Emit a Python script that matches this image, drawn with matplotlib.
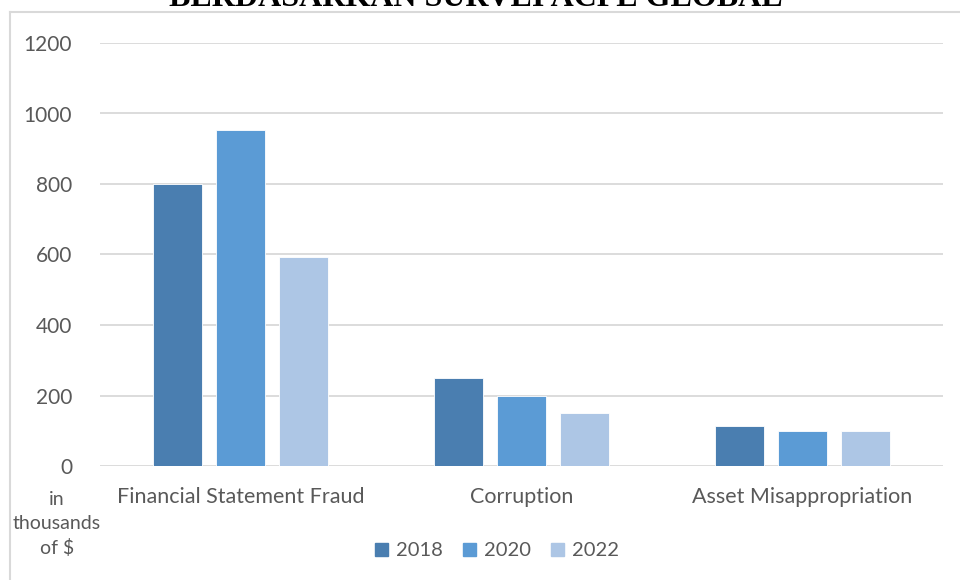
import matplotlib
matplotlib.use("Agg")
import matplotlib.pyplot as plt
import numpy as np
from matplotlib.lines import Line2D

categories = ["Financial Statement Fraud", "Corruption", "Asset Misappropriation"]
years = ["2018", "2020", "2022"]
values_2018 = [800, 250, 114]
values_2020 = [954, 200, 100]
values_2022 = [593, 150, 100]
colors = ["#4a7eb0", "#5b9bd5", "#adc6e5"]
yticks = [0, 200, 400, 600, 800, 1000, 1200]

plt.rcParams['font.family'] = ['Lato', 'DejaVu Sans']
txt = "#595959"

fig = plt.figure(figsize=(9.6, 5.8), dpi=100)
ax = fig.add_axes([100/960, 1-466/580, 843/960, (466-43)/580])

series = [values_2018, values_2020, values_2022]
x = np.arange(len(categories))
w = 0.174
off = 0.224
for i, (vals, c) in enumerate(zip(series, colors)):
    ax.bar(x + (i-1)*off, vals, width=w, color=c, edgecolor="white", linewidth=0.6, zorder=3, label=years[i])

ax.set_xlim(-0.5, 2.5)
ax.set_ylim(0, 1200)
ax.set_yticks(yticks)
ax.set_yticklabels([str(v) for v in yticks], color=txt, fontsize=15)
ax.set_xticks(x)
ax.set_xticklabels(categories, color=txt, fontsize=15.5)
ax.tick_params(axis='both', length=0)
ax.tick_params(axis='y', pad=20)
ax.tick_params(axis='x', pad=15)
ax.grid(axis='y', color="#d9d9d9", linewidth=1.3, zorder=0)
for s in ax.spines.values():
    s.set_visible(False)

fig.text(57/960, 1-524/580, "in\nthousands\nof $", ha='center', va='center', color=txt, fontsize=14, linespacing=1.5)

handles = [plt.Rectangle((0, 0), 1, 1, color=c) for c in colors]
fig.legend(handles, years, loc='center', bbox_to_anchor=(497/960, 1-551/580), ncol=3, frameon=False,
           fontsize=14.5, labelcolor=txt, handlelength=0.65, handleheight=0.65, handletextpad=0.4, columnspacing=1.0)

# border lines (frame of chart area)
fig.add_artist(Line2D([10/960, 1], [1-12/580, 1-12/580], color="#d9d9d9", linewidth=1.5, transform=fig.transFigure))
fig.add_artist(Line2D([10/960, 10/960], [1-12/580, 0], color="#d9d9d9", linewidth=1.5, transform=fig.transFigure))

# cropped title (cut off at the top edge, as in the reference)
fig.text(476/960, 1-5.5/580, "BERDASARKAN SURVEI ACFE GLOBAL", ha='center', va='baseline',
         fontsize=23, fontweight='bold', family='Liberation Serif', color='black')

fig.savefig("out.png", dpi=100)
